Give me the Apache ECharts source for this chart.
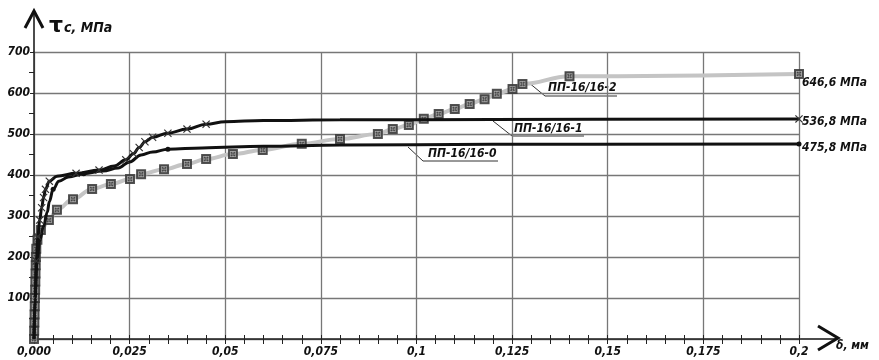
<!DOCTYPE html>
<html>
<head>
<meta charset="utf-8">
<script src="https://cdn.jsdelivr.net/npm/echarts@6/dist/echarts.min.js"></script>
<style>
  html, body { margin: 0; padding: 0; background: #fff; }
  #chart { width: 879px; height: 360px; }
</style>
</head>
<body>
<div id="chart"></div>
<script>
// tick labels
const xTickLabels = ['0,000', '0,025', '0,05', '0,075', '0,1', '0,125', '0,15', '0,175', '0,2']
const seriesNames = ['ПП-16/16-2', 'ПП-16/16-1', 'ПП-16/16-0']
const endValues = ['646,6 МПа', '536,8 МПа', '475,8 МПа']

// ПП-16/16-2 (grey, square markers) [δ, τ]
const s2Points = [
  [0, 0], [0.00005, 20], [0.0001, 40], [0.00015, 60], [0.0002, 80], [0.00025, 100],
  [0.0003, 120], [0.00035, 140], [0.0004, 160], [0.00045, 180], [0.0005, 200],
  [0.0006, 220], [0.0009, 242], [0.0018, 266], [0.0039, 290], [0.006, 315],
  [0.0102, 341], [0.0152, 366], [0.0201, 378], [0.0251, 390], [0.028, 402],
  [0.034, 414], [0.040, 427], [0.045, 439], [0.052, 451], [0.0598, 461],
  [0.070, 476], [0.080, 488], [0.0899, 500], [0.0938, 512], [0.098, 522],
  [0.1019, 537], [0.1058, 549], [0.110, 561], [0.1139, 573], [0.1178, 585],
  [0.121, 598], [0.1251, 610], [0.1277, 622], [0.140, 641], [0.2, 646.6]
]

// ПП-16/16-1 (black, cross markers)
const s1Points = [
  [0, 0], [0.0003, 100], [0.0006, 190], [0.001, 250], [0.0015, 290], [0.002, 320],
  [0.0025, 345], [0.003, 365], [0.004, 385], [0.006, 397], [0.011, 404],
  [0.017, 412], [0.021, 422], [0.024, 437], [0.026, 452], [0.0275, 467],
  [0.029, 481], [0.031, 492], [0.035, 502], [0.040, 512], [0.045, 524],
  [0.050, 530], [0.060, 533], [0.080, 534.5], [0.120, 535.5], [0.2, 536.8]
]
const s1Marked = [2, 3, 4, 5, 6, 7, 8, 10, 11, 13, 14, 15, 16, 17, 18, 19, 20, 25]

// ПП-16/16-0 (black, dot markers)
const s0Points = [
  [0, 0], [0.0003, 100], [0.0008, 190], [0.0015, 240], [0.0025, 275], [0.0035, 310],
  [0.004, 335], [0.005, 365], [0.0065, 385], [0.009, 395], [0.013, 403],
  [0.018, 410], [0.022, 417], [0.025, 432], [0.028, 449], [0.031, 456],
  [0.035, 463], [0.044, 466], [0.060, 470], [0.080, 473], [0.120, 475], [0.2, 475.8]
]
const s0Marked = [7, 10, 16, 21]

const squareSym = 'path://M0,0H10V10H0Z M2,2V8H8V2Z M2.6,3.6L3.6,2.6L7.4,6.4L6.4,7.4Z M7.4,3.6L6.4,2.6L2.6,6.4L3.6,7.4Z'
const crossSym = 'path://M0,1L1,0L5,4L9,0L10,1L6,5L10,9L9,10L5,6L1,10L0,9L4,5Z'

const font = "'DejaVu Sans Condensed', 'Liberation Sans', sans-serif"
const txt = { fontFamily: font, fontStyle: 'italic', fontWeight: 'bold', fontSize: 12, color: '#111' }

function items(points, marked, sym) {
  return points.map((p, i) => ({ value: p, symbol: marked.includes(i) ? sym : 'none' }))
}

const chart = echarts.init(document.getElementById('chart'))

const xBase = {
  type: 'value',
  min: 0,
  max: 0.2,
  interval: 0.025,
  position: 'bottom'
}

const option = {
  animation: false,
  backgroundColor: '#fff',
  grid: { left: 34, right: 80, top: 52, bottom: 21 },
  xAxis: [
    Object.assign({}, xBase, {
      axisLine: { lineStyle: { color: '#222', width: 1.5 } },
      axisTick: { show: true, length: 5, lineStyle: { color: '#222', width: 1 } },
      minorTick: { show: true, splitNumber: 5, length: 5, lineStyle: { color: '#222', width: 1 } },
      splitLine: { show: true, lineStyle: { color: '#777', width: 1.3 } },
      axisLabel: Object.assign({}, txt, {
        margin: 7,
        formatter: v => xTickLabels[Math.round(v / 0.025)]
      })
    }),
    Object.assign({}, xBase, {
      axisLine: { show: false },
      axisTick: { show: true, inside: true, length: 4, lineStyle: { color: '#222', width: 1 } },
      axisLabel: { show: false },
      minorTick: { show: true, splitNumber: 5, length: 4, lineStyle: { color: '#222', width: 1 } },
      splitLine: { show: false }
    })
  ],
  yAxis: {
    type: 'value',
    min: 0,
    max: 700,
    interval: 100,
    axisLine: { show: true, lineStyle: { color: '#222', width: 1.5 } },
    axisTick: { show: true, length: 4, lineStyle: { color: '#222' } },
    minorTick: { show: true, splitNumber: 2, length: 5, lineStyle: { color: '#222' } },
    splitLine: { show: true, lineStyle: { color: '#777', width: 1.3 } },
    axisLabel: Object.assign({}, txt, {
      margin: 4,
      formatter: v => (v === 0 ? '' : String(v))
    })
  },
  series: [
    {
      name: seriesNames[0],
      type: 'line',
      smooth: 0.4,
      smoothMonotone: 'x',
      showSymbol: false,
      data: s2Points,
      lineStyle: { color: '#c4c4c4', width: 4 },
      itemStyle: { color: '#c4c4c4' },
      endLabel: Object.assign({}, txt, { show: true, formatter: () => endValues[0], offset: [0, 9], distance: 3 }),
      z: 2
    },
    {
      // marker bodies of ПП-16/16-2
      type: 'scatter',
      data: s2Points,
      symbol: 'rect',
      symbolSize: 9,
      itemStyle: { color: '#8a8a8a' },
      z: 2
    },
    {
      type: 'scatter',
      data: s2Points,
      symbol: squareSym,
      symbolSize: 10,
      itemStyle: { color: '#333' },
      z: 2
    },
    {
      name: seriesNames[1],
      type: 'line',
      smooth: 0.4,
      smoothMonotone: 'x',
      data: items(s1Points, s1Marked, crossSym),
      symbolSize: 8,
      lineStyle: { color: '#111', width: 3 },
      itemStyle: { color: '#333' },
      endLabel: Object.assign({}, txt, { show: true, formatter: () => endValues[1], offset: [0, 3], distance: 3 }),
      z: 3
    },
    {
      name: seriesNames[2],
      type: 'line',
      smooth: 0.4,
      smoothMonotone: 'x',
      data: items(s0Points, s0Marked, 'circle'),
      symbolSize: 5,
      lineStyle: { color: '#111', width: 3 },
      itemStyle: { color: '#111' },
      endLabel: Object.assign({}, txt, { show: true, formatter: () => endValues[2], offset: [0, 4], distance: 3 }),
      z: 3
    }
  ],
  graphic: [
    // y axis extension + open arrow
    { type: 'line', shape: { x1: 34, y1: 52, x2: 34, y2: 12 }, style: { stroke: '#111', lineWidth: 1.5 } },
    { type: 'polyline', shape: { points: [[25, 28], [34, 11], [43, 28]] }, style: { stroke: '#111', lineWidth: 3, fill: null } },
    // x axis extension + open arrow
    { type: 'line', shape: { x1: 799, y1: 339, x2: 837, y2: 339 }, style: { stroke: '#111', lineWidth: 1.5 } },
    { type: 'polyline', shape: { points: [[818, 326], [838, 338], [818, 350]] }, style: { stroke: '#111', lineWidth: 3, fill: null } },
    // axis titles
    { type: 'text', left: 49, top: 15, style: { text: 'τ', fontFamily: 'DejaVu Sans', fontSize: 22, fontWeight: 'bold', fill: '#111' } },
    { type: 'text', left: 64, top: 21, style: { text: 'c, МПа', fontFamily: font, fontStyle: 'italic', fontWeight: 'bold', fontSize: 14, fill: '#111' } },
    { type: 'text', left: 836, top: 340, style: { text: 'δ, мм', fontFamily: font, fontStyle: 'italic', fontWeight: 'bold', fontSize: 12, fill: '#111' } },
    // callouts
    { type: 'polyline', shape: { points: [[528, 82], [545, 96]] }, style: { stroke: '#333', lineWidth: 1, fill: null } },
    { type: 'line', shape: { x1: 545, y1: 96, x2: 617, y2: 96 }, style: { stroke: '#999', lineWidth: 2 } },
    { type: 'text', left: 548, top: 82, style: { text: seriesNames[0], fontFamily: font, fontStyle: 'italic', fontWeight: 'bold', fontSize: 12, fill: '#111' } },
    { type: 'polyline', shape: { points: [[493, 121], [512, 136]] }, style: { stroke: '#333', lineWidth: 1, fill: null } },
    { type: 'line', shape: { x1: 512, y1: 136, x2: 584, y2: 136 }, style: { stroke: '#999', lineWidth: 2 } },
    { type: 'text', left: 514, top: 123, style: { text: seriesNames[1], fontFamily: font, fontStyle: 'italic', fontWeight: 'bold', fontSize: 12, fill: '#111' } },
    { type: 'polyline', shape: { points: [[408, 147], [423, 161]] }, style: { stroke: '#333', lineWidth: 1, fill: null } },
    { type: 'line', shape: { x1: 423, y1: 161, x2: 498, y2: 161 }, style: { stroke: '#333', lineWidth: 1 } },
    { type: 'text', left: 428, top: 148, style: { text: seriesNames[2], fontFamily: font, fontStyle: 'italic', fontWeight: 'bold', fontSize: 12, fill: '#111' } }
  ]
}

chart.setOption(option)
</script>
</body>
</html>
